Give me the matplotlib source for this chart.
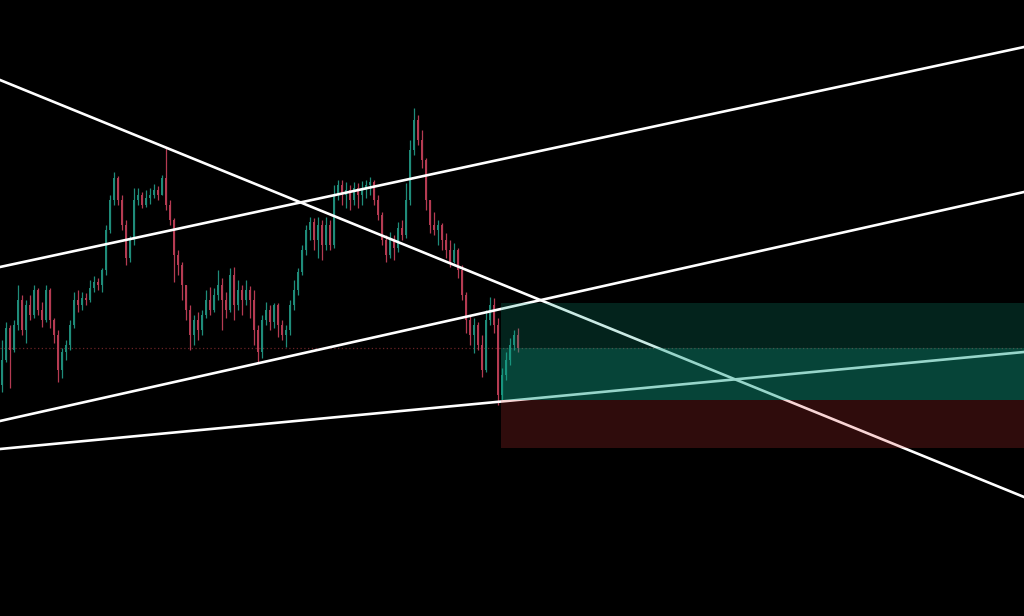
import numpy as np
import matplotlib
matplotlib.use("Agg")
import matplotlib.pyplot as plt

# candle prices (arbitrary price units), one candle per bar
first_open = 231
close = [256, 288, 266, 291, 316, 286, 311, 301, 326, 306,
         296, 326, 296, 281, 246, 264, 271, 291, 316, 311,
         318, 316, 328, 334, 331, 346, 386, 416, 438, 416,
         391, 358, 376, 416, 421, 411, 418, 421, 426, 421,
         438, 411, 396, 361, 351, 331, 306, 281, 296, 286,
         301, 316, 306, 321, 331, 316, 306, 341, 311, 326,
         316, 326, 316, 286, 264, 296, 306, 294, 311, 291,
         281, 286, 311, 326, 344, 366, 386, 394, 376, 391,
         371, 391, 371, 421, 431, 421, 426, 416, 428, 421,
         426, 431, 434, 416, 401, 376, 361, 376, 368, 388,
         381, 416, 466, 496, 476, 456, 416, 391, 386, 391,
         376, 366, 354, 366, 346, 321, 296, 281, 291, 271,
         246, 296, 311, 291, 221, 241, 256, 271, 281, 268]
high = [276, 294, 291, 296, 331, 321, 316, 321, 331, 328,
        314, 331, 328, 298, 286, 268, 276, 296, 324, 326,
        324, 323, 336, 340, 338, 348, 391, 421, 444, 440,
        421, 396, 380, 428, 428, 424, 426, 428, 432, 430,
        441, 468, 416, 398, 366, 354, 331, 311, 301, 304,
        306, 326, 329, 328, 346, 338, 324, 348, 349, 336,
        331, 336, 330, 326, 291, 301, 314, 311, 313, 313,
        296, 291, 316, 336, 348, 371, 391, 399, 398, 399,
        396, 399, 396, 431, 436, 436, 434, 431, 434, 433,
        435, 436, 439, 436, 421, 404, 381, 384, 381, 394,
        396, 433, 476, 508, 501, 486, 458, 416, 404, 396,
        393, 383, 376, 373, 368, 351, 324, 301, 298, 294,
        281, 306, 319, 318, 298, 248, 264, 278, 286, 288]
low = [224, 254, 228, 264, 286, 281, 273, 296, 298, 301,
       289, 294, 288, 273, 234, 238, 256, 266, 288, 304,
       306, 311, 314, 324, 326, 324, 341, 383, 411, 411,
       386, 351, 354, 371, 411, 408, 409, 412, 418, 416,
       421, 406, 391, 334, 341, 316, 296, 266, 271, 276,
       281, 298, 301, 304, 316, 286, 298, 304, 296, 306,
       301, 311, 298, 271, 254, 258, 291, 286, 288, 279,
       276, 269, 281, 306, 321, 341, 361, 376, 366, 358,
       356, 366, 366, 368, 416, 411, 408, 406, 411, 408,
       411, 418, 421, 411, 396, 371, 354, 358, 356, 364,
       376, 378, 411, 461, 471, 448, 406, 383, 381, 371,
       366, 358, 349, 353, 338, 316, 283, 271, 263, 266,
       239, 244, 291, 283, 211, 216, 236, 251, 266, 264]

# trend lines: two anchor points each (bar index, price)
trend_lines = [
    [(-0.5, 536), (255.5, 119)],
    [(-0.5, 349), (255.5, 569)],
    [(-0.5, 195), (255.5, 424)],
    [(-0.5, 167), (255.5, 264)],
]

# long position tool
pos_start = 124.75
pos_target = 313
pos_entry = 216
pos_stop = 168
last_price = close[-1]

close = np.array(close, dtype=float)
high = np.array(high, dtype=float)
low = np.array(low, dtype=float)
opens = np.concatenate([[first_open], close[:-1]])
x = np.arange(len(close))

fig = plt.figure(figsize=(10.24, 6.16), dpi=100, facecolor="black")
ax = fig.add_axes([0, 0, 1, 1], facecolor="black")
ax.set_xlim(-0.5, 255.5)
ax.set_ylim(0, 616)
ax.axis("off")

green = "#1f8c7a"
red = "#b53b52"
up = close >= opens
cols = np.where(up, green, red)

ax.vlines(x, low, high, colors=cols, linewidth=0.9, zorder=2)
ax.bar(x, np.maximum(np.abs(close - opens), 0.8), bottom=np.minimum(close, opens),
       width=0.5, color=cols, linewidth=0, zorder=2)

# current price dotted line
ax.axhline(last_price, color="#6a2226", linewidth=0.9, linestyle=(0, (1, 2)), zorder=1)

for p1, p2 in trend_lines:
    ax.axline(p1, p2, color="white", linewidth=1.9, zorder=3)

x_end = 255.5
ax.fill_between([pos_start, x_end], pos_entry, pos_target, color="#10a084", alpha=0.22,
                linewidth=0, zorder=4)
ax.fill_between([pos_start, x_end], pos_entry, last_price, color="#10a084", alpha=0.27,
                linewidth=0, zorder=4)
ax.fill_between([pos_start, x_end], pos_stop, pos_entry, color="#e03a3a", alpha=0.21,
                linewidth=0, zorder=4)

fig.savefig("out.png", dpi=100, facecolor="black")
